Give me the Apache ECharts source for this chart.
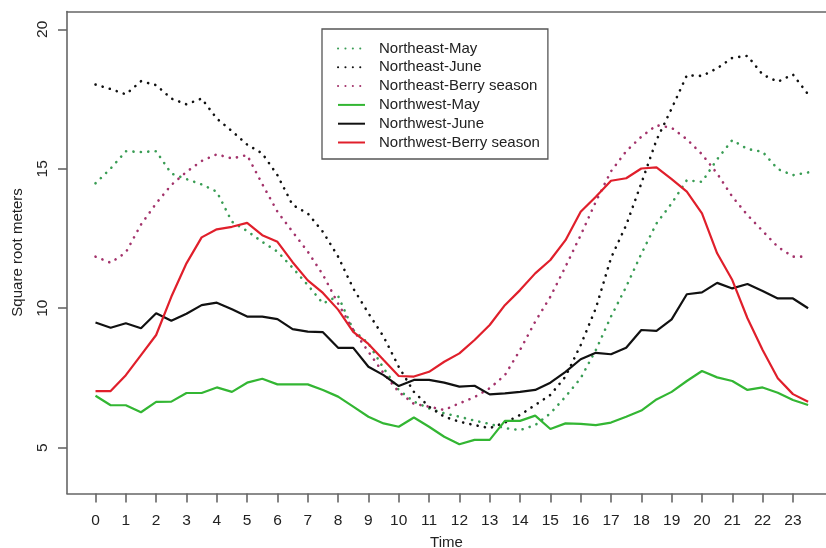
<!DOCTYPE html>
<html>
<head>
<meta charset="utf-8">
<script src="https://cdn.jsdelivr.net/npm/echarts@6/dist/echarts.min.js"></script>
<style>
  html, body { margin: 0; padding: 0; background: #fff; }
  #chart { width: 826px; height: 548px; }
</style>
</head>
<body>
<div id="chart"></div>
<script>
// Half-hour sampling times (hours of the day)
const times = [0, 0.5, 1, 1.5, 2, 2.5, 3, 3.5, 4, 4.5, 5, 5.5, 6, 6.5, 7, 7.5,
  8, 8.5, 9, 9.5, 10, 10.5, 11, 11.5, 12, 12.5, 13, 13.5, 14, 14.5, 15, 15.5,
  16, 16.5, 17, 17.5, 18, 18.5, 19, 19.5, 20, 20.5, 21, 21.5, 22, 22.5, 23, 23.5];

const xTicks = [0, 1, 2, 3, 4, 5, 6, 7, 8, 9, 10, 11, 12, 13, 14, 15, 16, 17, 18, 19, 20, 21, 22, 23];
const yTicks = [5, 10, 15, 20];

// Square root of area (meters), one value per half hour
const northeastMay = [14.48, 15.01, 15.63, 15.60, 15.63, 14.83, 14.63, 14.44, 14.18, 13.10, 12.77, 12.38,
  12.03, 11.45, 10.83, 10.17, 10.44, 9.22, 8.74, 7.85, 7.07, 6.65, 6.41, 6.23,
  6.11, 5.97, 5.85, 5.70, 5.63, 5.81, 6.23, 6.83, 7.49, 8.50, 9.70, 10.77,
  11.95, 13.04, 13.76, 14.59, 14.53, 15.34, 16.03, 15.71, 15.61, 14.99, 14.77, 14.87];

const northeastJune = [18.02, 17.86, 17.67, 18.14, 18.00, 17.52, 17.31, 17.52, 16.80, 16.35, 15.87, 15.55,
  14.77, 13.70, 13.40, 12.74, 11.85, 10.71, 9.82, 8.98, 7.90, 7.00, 6.47, 6.11,
  5.93, 5.81, 5.70, 5.90, 6.17, 6.53, 6.89, 7.55, 8.68, 10.00, 11.80, 12.98,
  14.48, 16.03, 17.16, 18.35, 18.33, 18.60, 18.98, 19.05, 18.38, 18.12, 18.38, 17.67];

const northeastBerry = [11.85, 11.63, 12.00, 13.00, 13.76, 14.42, 14.89, 15.28, 15.52, 15.37, 15.49, 14.45,
  13.46, 12.74, 12.03, 11.20, 10.17, 9.22, 8.44, 7.67, 7.00, 6.57, 6.47, 6.35,
  6.59, 6.81, 7.13, 7.60, 8.50, 9.52, 10.41, 11.49, 12.62, 13.82, 14.91, 15.63,
  16.15, 16.56, 16.47, 16.06, 15.52, 14.83, 14.00, 13.34, 12.77, 12.20, 11.85, 11.85];

const northwestMay = [6.86, 6.52, 6.52, 6.27, 6.64, 6.65, 6.96, 6.96, 7.16, 7.00, 7.33, 7.47,
  7.27, 7.27, 7.27, 7.07, 6.83, 6.47, 6.11, 5.87, 5.75, 6.08, 5.75, 5.39,
  5.12, 5.28, 5.28, 5.96, 5.96, 6.15, 5.67, 5.87, 5.85, 5.81, 5.90, 6.11,
  6.33, 6.73, 7.00, 7.39, 7.75, 7.52, 7.39, 7.07, 7.16, 6.97, 6.71, 6.53];

const northwestJune = [9.49, 9.30, 9.46, 9.28, 9.82, 9.55, 9.80, 10.11, 10.20, 9.96, 9.70, 9.70,
  9.61, 9.25, 9.16, 9.14, 8.58, 8.58, 7.90, 7.60, 7.21, 7.43, 7.43, 7.33,
  7.19, 7.22, 6.91, 6.95, 7.00, 7.07, 7.33, 7.72, 8.17, 8.40, 8.35, 8.58,
  9.22, 9.19, 9.60, 10.50, 10.57, 10.91, 10.71, 10.87, 10.62, 10.35, 10.35, 10.00];

const northwestBerry = [7.03, 7.03, 7.60, 8.32, 9.04, 10.41, 11.61, 12.54, 12.83, 12.92, 13.06, 12.62,
  12.38, 11.65, 11.00, 10.55, 9.95, 9.15, 8.72, 8.14, 7.57, 7.55, 7.72, 8.08,
  8.38, 8.86, 9.40, 10.11, 10.65, 11.25, 11.73, 12.44, 13.46, 14.00, 14.57, 14.66,
  15.01, 15.05, 14.63, 14.18, 13.40, 11.97, 11.01, 9.64, 8.50, 7.49, 6.92, 6.65];

const FONT = '"Liberation Sans", Arial, Helvetica, sans-serif';
const DOT = [0.1, 7.3];
const FRAME = '#666';

function pairs(values) {
  return values.map((v, i) => [times[i], v]);
}

function lineSeries(name, values, color, dotted) {
  return {
    name: name,
    type: 'line',
    data: pairs(values),
    symbol: 'none',
    smooth: false,
    animation: false,
    color: color,
    lineStyle: dotted
      ? { color: color, width: 2.6, type: DOT, cap: 'round' }
      : { color: color, width: 2.2, type: 'solid' }
  };
}

const chart = echarts.init(document.getElementById('chart'), null, { renderer: 'canvas' });

chart.setOption({
  backgroundColor: '#ffffff',
  animation: false,
  grid: {
    left: 67, right: 0, top: 11.5, bottom: 54.6, show: false,
    containLabel: false, outerBoundsMode: 'none'
  },
  legend: {
    orient: 'vertical',
    left: 322, top: 29,
    padding: [12, 8, 9, 15],
    itemWidth: 27, itemHeight: 15, itemGap: 3.8,
    borderColor: '#555', borderWidth: 1.3, backgroundColor: '#fff',
    itemStyle: { opacity: 0 },
    textStyle: { fontFamily: FONT, fontSize: 15, color: '#222', lineHeight: 15, padding: [0, 0, 0, 9] },
    data: ['Northeast-May', 'Northeast-June', 'Northeast-Berry season',
           'Northwest-May', 'Northwest-June', 'Northwest-Berry season']
  },
  xAxis: [{
    type: 'value',
    min: -0.94, max: 24.09,
    name: 'Time', nameLocation: 'middle', nameGap: 42,
    nameTextStyle: { fontFamily: FONT, fontSize: 15, color: '#222' },
    splitLine: { show: false },
    axisLine: { show: true, onZero: false, lineStyle: { color: FRAME, width: 1.6 } },
    axisTick: { show: true, length: 9, customValues: xTicks, lineStyle: { color: FRAME, width: 1.6 } },
    axisLabel: { customValues: xTicks, margin: 19.5, fontFamily: FONT, fontSize: 15.5, color: '#222' }
  }, {
    // top edge of the frame
    type: 'value', position: 'top',
    min: -0.94, max: 24.09,
    splitLine: { show: false },
    axisLine: { show: true, onZero: false, lineStyle: { color: FRAME, width: 1.6 } },
    axisTick: { show: false },
    axisLabel: { show: false }
  }],
  yAxis: {
    type: 'value',
    min: 3.36, max: 20.64,
    name: 'Square root meters', nameLocation: 'middle', nameGap: 42,
    nameTextStyle: { fontFamily: FONT, fontSize: 15, color: '#222' },
    splitLine: { show: false },
    axisLine: { show: true, onZero: false, lineStyle: { color: FRAME, width: 1.6 } },
    axisTick: { show: true, length: 9, customValues: yTicks, lineStyle: { color: FRAME, width: 1.6 } },
    axisLabel: { customValues: yTicks, rotate: 90, margin: 16, fontFamily: FONT, fontSize: 15.5, color: '#222' }
  },
  series: [
    lineSeries('Northeast-May', northeastMay, '#3a9d55', true),
    lineSeries('Northeast-June', northeastJune, '#111111', true),
    lineSeries('Northeast-Berry season', northeastBerry, '#a3336b', true),
    lineSeries('Northwest-May', northwestMay, '#33b633', false),
    lineSeries('Northwest-June', northwestJune, '#111111', false),
    lineSeries('Northwest-Berry season', northwestBerry, '#e01f2b', false)
  ]
});
</script>
</body>
</html>
